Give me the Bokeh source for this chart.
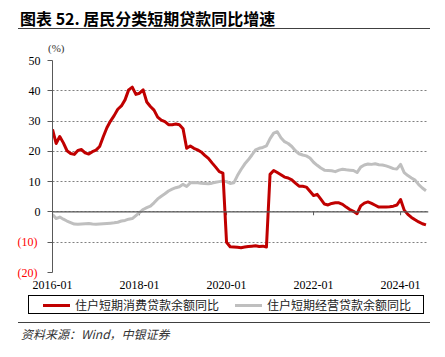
from bokeh.plotting import figure
from bokeh.layouts import column
from bokeh.models import (Range1d, LinearAxis, Div, ColumnDataSource, Span, FixedTicker)
from bokeh.embed import file_html
from bokeh.resources import INLINE

# ---------------- data ----------------
title_text = "图表 52. 居民分类短期贷款同比增速"
source_text = "资料来源：Wind，中银证券"
unit_text = "(%)"
series_names = ["住户短期消费贷款余额同比", "住户短期经营贷款余额同比"]

# monthly index 0 = 2016-01 ... 103 = 2024-08
month_index = list(range(104))
x_tick_pos = [0, 24, 48, 72, 96]
x_tick_labels = ["2016-01", "2018-01", "2020-01", "2022-01", "2024-01"]
y_ticks = [-20, -10, 0, 10, 20, 30, 40, 50]
y_tick_labels = ["(20)", "(10)", "0", "10", "20", "30", "40", "50"]

consumer = [
    27.3, 22.6, 24.9, 22.8, 20.2, 19.3, 19.0, 20.3, 20.6, 19.5, 19.1, 19.9,   # 2016
    20.4, 21.6, 24.8, 27.8, 30.0, 31.8, 33.9, 35.0, 37.0, 40.3, 41.2, 38.8,   # 2017
    39.2, 40.3, 36.3, 34.8, 33.6, 31.3, 30.3, 29.8, 28.8, 28.8, 29.0, 28.8,   # 2018
    27.5, 21.0, 21.8, 21.0, 20.5, 19.8, 18.7, 17.7, 16.2, 14.8, 13.3, 12.8,   # 2019
    -10.0, -11.5, -11.6, -11.7, -11.8, -11.6, -11.4, -11.3, -11.2, -11.4, -11.3, -11.6,  # 2020
    12.4, 13.7, 13.0, 12.3, 11.5, 11.2, 10.6, 9.5, 8.5, 8.5, 8.2, 6.8,        # 2021
    5.4, 5.8, 4.2, 2.6, 2.3, 2.8, 3.0, 3.0, 2.5, 1.6, 0.8, 0.2,               # 2022
    -0.6, 2.0, 2.9, 3.3, 2.8, 2.2, 1.6, 1.6, 1.6, 1.7, 1.9, 2.3,              # 2023
    4.1, 0.6, -0.8, -1.8, -2.6, -3.3, -3.9, -4.3,                             # 2024
]
business = [
    -0.8, -2.2, -1.7, -2.4, -3.0, -3.5, -4.0, -4.1, -4.0, -3.9, -3.8, -4.0,   # 2016
    -4.1, -4.0, -3.9, -3.8, -3.7, -3.6, -3.4, -3.0, -2.8, -2.4, -2.2, -1.2,   # 2017
    -0.2, 0.8, 1.4, 1.9, 3.0, 4.3, 5.2, 6.0, 6.9, 7.5, 8.0, 8.3,              # 2018
    9.1, 8.4, 9.6, 9.7, 9.6, 9.5, 9.4, 9.3, 9.5, 9.8, 10.0, 10.2,             # 2019
    10.0, 9.4, 9.6, 12.0, 14.0, 15.8, 17.2, 18.8, 20.5, 21.0, 21.3, 21.8,     # 2020
    24.2, 26.0, 26.5, 24.5, 23.2, 22.6, 21.6, 20.2, 19.2, 18.8, 18.5, 17.8,   # 2021
    16.4, 15.4, 14.5, 13.8, 13.7, 13.6, 13.3, 13.8, 14.1, 13.9, 13.8, 13.7,   # 2022
    13.0, 14.8, 15.5, 15.8, 15.7, 15.9, 15.6, 15.5, 15.2, 14.8, 14.3, 14.2,   # 2023
    15.7, 13.0, 12.0, 11.2, 10.5, 9.0, 7.9, 7.0,                              # 2024
]

# ---------------- styles ----------------
RED = "#C00000"
GRAY = "#BFBFBF"
AXIS = "#595959"
RULE = "#404040"
SERIF = "Liberation Serif"
CJK = "Noto Sans CJK SC"
W = 445

# ---------------- header (title, rule, unit) ----------------
head_html = (
    '<div style="position:relative;width:445px;height:53px;margin:0;padding:0;">'
    f'<div style="position:absolute;left:20px;top:8px;white-space:nowrap;'
    f"font-family:'{CJK}';font-size:16px;font-weight:bold;line-height:20px;color:#000;\">"
    f'{title_text}</div>'
    f'<div style="position:absolute;left:18px;top:28px;width:412px;height:0;'
    f'border-top:1.5px solid {RULE};"></div>'
    f'<div style="position:absolute;left:48px;top:42px;white-space:nowrap;'
    f"font-family:'{SERIF}';font-size:11px;line-height:12px;color:#333;\">"
    f'{unit_text}</div>'
    '</div>'
)
head = Div(text=head_html, width=W, height=53, margin=0)

# ---------------- main chart ----------------
p = figure(width=W, height=240, output_backend="svg", toolbar_location=None,
           x_range=Range1d(0, 103.7), y_range=Range1d(-20, 50),
           min_border_left=52, min_border_right=17, min_border_top=7,
           min_border_bottom=21)
p.outline_line_color = None

src = ColumnDataSource(dict(x=month_index, c=consumer, b=business))

# grids
p.xgrid.grid_line_color = None
p.ygrid.grid_line_color = "#808080"
p.ygrid.grid_line_dash = "2 2"
p.ygrid.grid_line_width = 1

# zero line with small downward ticks
p.add_layout(Span(location=0, dimension="width", line_color=AXIS, line_width=1.2))
p.segment(x0=x_tick_pos[1:], y0=[0] * 4, x1=x_tick_pos[1:], y1=[-1.1] * 4,
          line_color=AXIS, line_width=1)

r_b = p.line("x", "b", source=src, line_color=GRAY, line_width=3, line_join="round")
r_c = p.line("x", "c", source=src, line_color=RED, line_width=3, line_join="round")

# inner y axis: positive labels (black)
yax = p.yaxis[0]
yax.ticker = FixedTicker(ticks=y_ticks)
yax.major_label_overrides = {t: (l if t >= 0 else "") for t, l in zip(y_ticks, y_tick_labels)}
yax.axis_line_color = AXIS
yax.major_tick_line_color = AXIS
yax.major_tick_out = 5
yax.major_tick_in = 0
yax.minor_tick_line_color = None
yax.major_label_text_font = SERIF
yax.major_label_text_font_size = "12px"
yax.major_label_text_color = "black"
yax.major_label_standoff = 7

# outer y axis: negative labels (red), pulled back to line up with the inner ones
yax2 = LinearAxis(ticker=FixedTicker(ticks=y_ticks),
                  major_label_overrides={t: (l if t < 0 else "") for t, l in zip(y_ticks, y_tick_labels)},
                  axis_line_color=None, major_tick_line_color=None,
                  minor_tick_line_color=None, major_tick_out=0, major_tick_in=0,
                  major_label_text_font=SERIF, major_label_text_font_size="12px",
                  major_label_text_color="#FF0000", major_label_standoff=-12)
p.add_layout(yax2, "left")

# x axis
p.xaxis.ticker = FixedTicker(ticks=x_tick_pos)
p.xaxis.major_label_overrides = dict(zip(x_tick_pos, x_tick_labels))
p.xaxis.axis_line_color = None
p.xaxis.major_tick_line_color = None
p.xaxis.minor_tick_line_color = None
p.xaxis.major_tick_out = 0
p.xaxis.major_label_text_font = SERIF
p.xaxis.major_label_text_font_size = "12px"
p.xaxis.major_label_text_color = "black"
p.xaxis.major_label_standoff = 8


# ---------------- footer (legend, rule, source) ----------------
def key(left, color, label):
    return (f'<div style="position:absolute;left:{left}px;top:8px;width:27px;height:3px;'
            f'background:{color};"></div>'
            f'<div style="position:absolute;left:{left + 32}px;top:1px;white-space:nowrap;'
            f"font-family:'{CJK}';font-size:12px;line-height:16px;color:#222;\">{label}</div>")


foot_html = (
    '<div style="position:relative;width:445px;height:64px;margin:0;padding:0;">'
    '<div style="position:absolute;left:28px;top:2px;width:394px;height:17px;'
    'border:1px solid #000;box-sizing:content-box;">'
    + key(14, RED, series_names[0]) + key(206, GRAY, series_names[1]) +
    '</div>'
    f'<div style="position:absolute;left:18px;top:29px;width:412px;height:0;'
    f'border-top:1.5px solid {RULE};"></div>'
    f'<div style="position:absolute;left:21px;top:33px;white-space:nowrap;'
    f"font-family:'{CJK}';font-size:12px;font-style:italic;line-height:16px;color:#333;\">"
    f'{source_text}</div>'
    '</div>'
)
foot = Div(text=foot_html, width=W, height=64, margin=0)

layout = column(head, p, foot, spacing=0)
open("out.html", "w").write(file_html(layout, INLINE))
